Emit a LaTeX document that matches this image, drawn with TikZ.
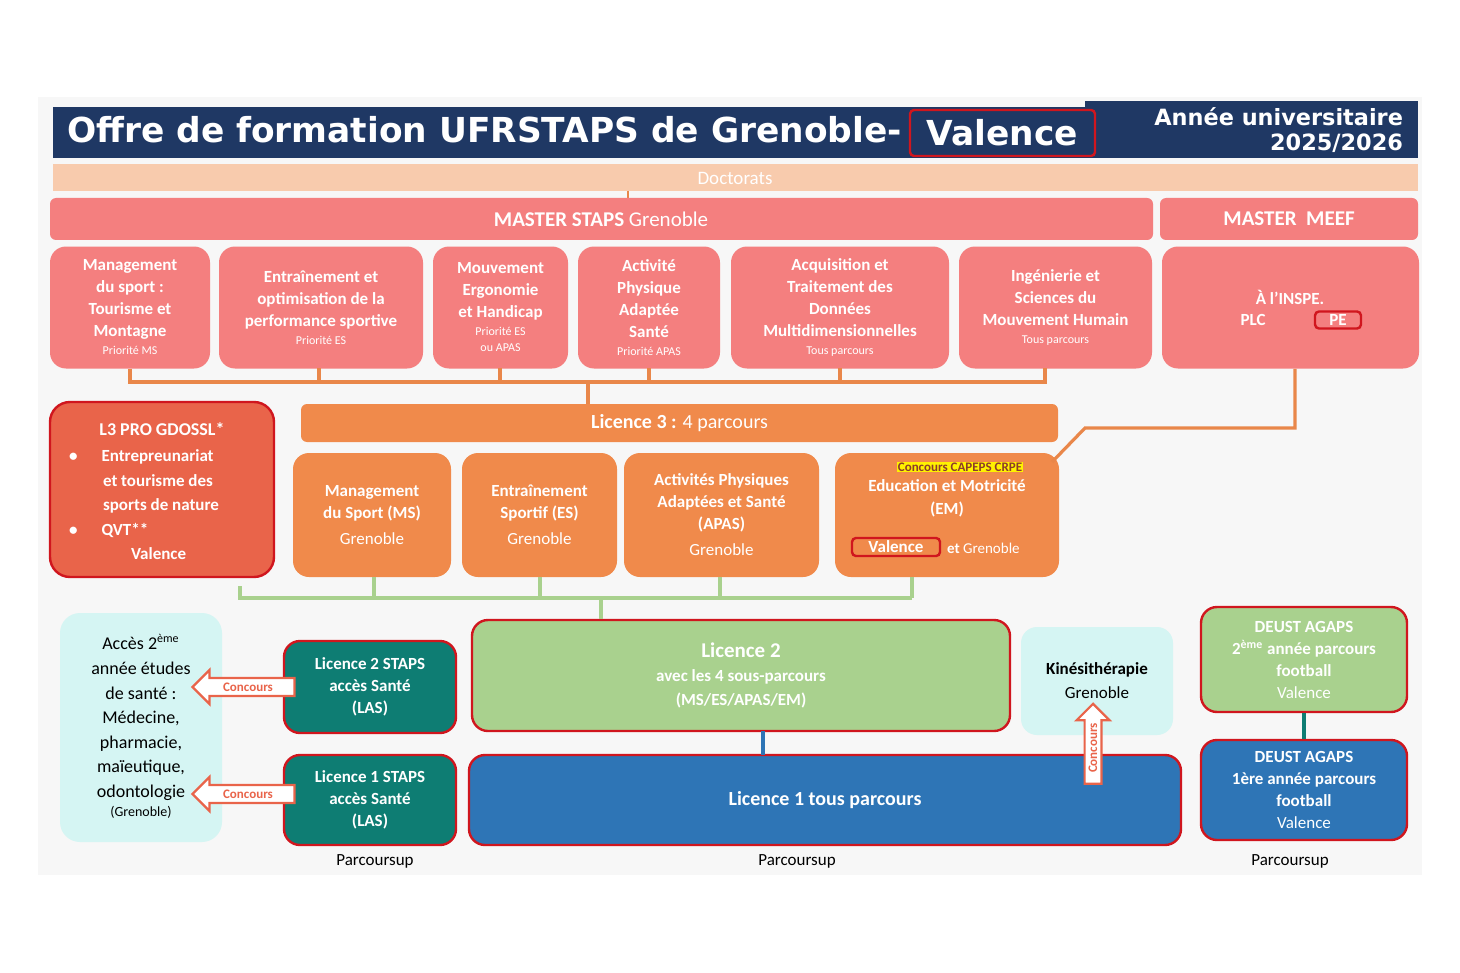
\documentclass[tikz,border=0pt]{standalone}
\usepackage{fontspec}
\setmainfont{Carlito}
\newfontfamily\titlefont{DejaVu Sans}
\usetikzlibrary{shapes.arrows}
\newcommand\subf{\fontsize{6}{7}\selectfont}
\definecolor{navy}{HTML}{1F3864}
\definecolor{salmon}{HTML}{F47F7F}
\definecolor{peach}{HTML}{F8CBAD}
\definecolor{orng}{HTML}{F08A4B}
\definecolor{redor}{HTML}{E9644A}
\definecolor{grn}{HTML}{A9D18E}
\definecolor{blu}{HTML}{2E75B6}
\definecolor{teal2}{HTML}{0E7D73}
\definecolor{cyanl}{HTML}{D5F5F3}
\definecolor{redb}{HTML}{D0161E}
\definecolor{lineor}{HTML}{E9874A}
\definecolor{linegr}{HTML}{A9D18E}
\begin{document}
\begin{tikzpicture}[x=0.5pt,y=-0.5pt,
  box/.style={rounded corners=8pt,text=white,font=\bfseries\fontsize{8.5}{11}\selectfont,align=center},
  orline/.style={draw=lineor,line width=1.6pt},
  grline/.style={draw=linegr,line width=1.6pt},
  concarrow/.style={single arrow,draw=redor,fill=white,line width=1.1pt,text=redor,font=\bfseries\fontsize{6.5}{7}\selectfont,inner sep=1.8pt,single arrow head extend=4pt,minimum height=51pt}]
\useasboundingbox (0,0) rectangle (1460,973);
\fill[white] (0,0) rectangle (1460,973);
\fill[gray!6] (38,97) rectangle (1422,875);
% title
\fill[navy] (53,107) rectangle (1085,158);
\fill[navy] (1085,101) rectangle (1418,158);
\node[anchor=west,text=white,font=\titlefont\bfseries\fontsize{17.2}{20}\selectfont] (title) at (60,130) {Offre de formation UFRSTAPS de Grenoble-};
\node[text=white,font=\titlefont\bfseries\fontsize{17.2}{20}\selectfont,draw=redb,line width=1.2pt,rounded corners=2pt,minimum width=92.5pt,minimum height=23pt] (valt) at (1002.5,133) {Valence};
\node[anchor=east,text=white,align=right,font=\titlefont\bfseries\fontsize{11.2}{12.5}\selectfont] (annee) at (1410,130) {Année universitaire\\2025/2026};
% doctorats
\fill[peach] (53,164) rectangle (1418,191);
\node[text=white,font=\fontsize{9.5}{11}\selectfont] (doc) at (735,178) {Doctorats};
\draw[lineor,line width=1pt] (628,191) -- (628,198);
% masters
\fill[salmon,rounded corners=3pt] (50,198) rectangle (1153,240);
\node[text=white,font=\fontsize{10.5}{12}\selectfont] (ms) at (601,219) {\textbf{MASTER STAPS} Grenoble};
\fill[salmon,rounded corners=3pt] (1160,198) rectangle (1418,240);
\node[text=white,font=\bfseries\fontsize{10.5}{12}\selectfont] (meef) at (1289,219) {MASTER\ \ MEEF};
% master boxes
\node[box,fill=salmon,minimum width=80pt,minimum height=61pt] (m1) at (130,307.5) {Management\\du sport :\\Tourisme et\\Montagne\\[-2pt]{\subf\mdseries Priorité MS}};
\node[box,fill=salmon,minimum width=102pt,minimum height=61pt] (m2) at (321,307.5) {Entraînement et\\optimisation de la\\performance sportive\\[-2pt]{\subf\mdseries Priorité ES}};
\node[box,fill=salmon,minimum width=67.5pt,minimum height=61pt] (m3) at (500.5,307.5) {Mouvement\\Ergonomie\\et Handicap\\[-2pt]{\subf\mdseries Priorité ES}\\[-3pt]{\subf\mdseries ou APAS}};
\node[box,fill=salmon,minimum width=71pt,minimum height=61pt] (m4) at (649,307.5) {Activité\\Physique\\Adaptée\\Santé\\[-2pt]{\subf\mdseries Priorité APAS}};
\node[box,fill=salmon,minimum width=109pt,minimum height=61pt] (m5) at (840,307.5) {Acquisition et\\Traitement des\\Données\\Multidimensionnelles\\[-2pt]{\subf\mdseries Tous parcours}};
\node[box,fill=salmon,minimum width=96.5pt,minimum height=61pt] (m6) at (1055.5,307.5) {Ingénierie et\\Sciences du\\Mouvement Humain\\[-2pt]{\subf\mdseries Tous parcours}};
\node[box,fill=salmon,minimum width=128.5pt,minimum height=61pt] (m7) at (1290.5,307.5) {};
\node[text=white,font=\bfseries\fontsize{8.5}{11}\selectfont] (inspe) at (1290,297) {À l’INSPE.};
\node[text=white,font=\bfseries\fontsize{8.5}{11}\selectfont] (plc) at (1253,320) {PLC};
\node[text=white,font=\bfseries\fontsize{8.5}{11}\selectfont,draw=redb,line width=1.2pt,rounded corners=2pt,minimum width=23pt,inner sep=1.5pt] (pe) at (1338,320) {PE};
% L3 bar
\node[fill=orng,rounded corners=3pt,minimum width=378.5pt,minimum height=19pt,text=white,font=\fontsize{10}{12}\selectfont] (l3) at (679.5,423) {\textbf{Licence 3 :} 4 parcours};
\draw[orline] (m1.south) -- (130,382) -- (1045,382) -- (1045,368);
\foreach \x in {319,500,649,840}{\draw[orline] (\x,368) -- (\x,382);}
\draw[orline] (588,382) -- (l3.north -| 588,0);
% L3 PRO
\node[rounded corners=10pt,fill=redor,draw=redb,line width=1.2pt,minimum width=112pt,minimum height=87.5pt] (pro) at (162,489.5) {};
\node[text=white,font=\bfseries\fontsize{9}{11}\selectfont] (protitle) at (162,429) {L3 PRO GDOSSL*};
\node[text=white,anchor=north west,align=left,font=\bfseries\fontsize{8.5}{12.2}\selectfont] (prolist) at (62,443) {•\hspace{12pt}Entrepreunariat\\\hspace{17pt}et tourisme des\\\hspace{17pt}sports de nature\\•\hspace{12pt}QVT**\\\hspace{31pt}Valence};
% L3 parcours boxes
\node[box,fill=orng,minimum width=79pt,minimum height=62pt] (ms1) at (372,515) {Management\\du Sport (MS)\\[2pt]{\mdseries Grenoble}};
\node[box,fill=orng,minimum width=77.5pt,minimum height=62pt] (es1) at (539.5,515) {Entraînement\\Sportif (ES)\\[2pt]{\mdseries Grenoble}};
\node[box,fill=orng,minimum width=97.5pt,minimum height=62pt] (ap1) at (721.5,515) {Activités Physiques\\Adaptées et Santé\\(APAS)\\[2pt]{\mdseries Grenoble}};
\node[box,fill=orng,minimum width=112pt,minimum height=62pt] (em1) at (947,515) {};
\node[fill=yellow,text=redor!60!black,font=\bfseries\fontsize{6.5}{7}\selectfont,inner sep=0.5pt] (capeps) at (960,467) {Concours CAPEPS CRPE};
\node[text=white,align=center,font=\bfseries\fontsize{8.5}{11.5}\selectfont] (emt) at (947,498) {Education et Motricité\\(EM)};
\node[text=white,font=\bfseries\fontsize{8.5}{10}\selectfont,draw=redb,line width=1.2pt,rounded corners=2pt,inner sep=1.5pt,minimum width=44pt] (val) at (896,547) {Valence};
\node[text=white,anchor=west,font=\fontsize{7.5}{9}\selectfont] (etg) at (940,548) {\textbf{et} Grenoble};
% INSPE connector
\draw[orline] (m7.south -| 1295,0) -- (1295,428) -- (1085,428) -- (1052,462);
% green connectors
\draw[grline] (240,586) -- (240,598) -- (912,598);
\foreach \x in {374,540,720,912}{\draw[grline] (\x,577) -- (\x,598);}
% licence 2
\node[box,fill=grn,draw=redb,line width=1.2pt,minimum width=269pt,minimum height=55.5pt,font=\fontsize{8.5}{12}\selectfont] (l2) at (741,675.5) {{\bfseries\fontsize{10.5}{12}\selectfont Licence 2}\\\textbf{avec les 4 sous-parcours}\\\textbf{(MS/ES/APAS/EM)}};
\draw[grline] (601,598) -- (l2.north -| 601,0);
% licence 1
\node[box,fill=blu,draw=redb,line width=1.2pt,minimum width=356pt,minimum height=45pt,font=\bfseries\fontsize{10}{12}\selectfont] (l1) at (825,800) {Licence 1 tous parcours};
\draw[blu,line width=1.6pt] (763,731) -- (763,755);
% kine
\node[rounded corners=8pt,fill=cyanl,minimum width=76pt,minimum height=54pt,align=center,font=\fontsize{8.5}{12}\selectfont] (kine) at (1097,681) {\textbf{Kinésithérapie}\\Grenoble};
\node[concarrow,rotate=90,minimum height=40pt,inner sep=1.5pt] (ck) at (1093,748) {Concours};
% DEUST
\node[box,fill=grn,draw=redb,line width=1.2pt,minimum width=103pt,minimum height=52.5pt] (d2) at (1304,659.5) {DEUST AGAPS\\2\textsuperscript{ème} année parcours\\football\\{\mdseries Valence}};
\node[box,fill=blu,draw=redb,line width=1.2pt,minimum width=103pt,minimum height=50pt] (d1) at (1304,790) {DEUST AGAPS\\1ère année parcours\\football\\{\mdseries Valence}};
\draw[teal2,line width=1.6pt] (d2.south) -- (d1.north);
% left sante
\node[rounded corners=10pt,fill=cyanl,minimum width=81pt,minimum height=114.5pt] (sante) at (141,727.5) {};
\node[align=center,font=\fontsize{9}{12.3}\selectfont] (santet) at (141,726) {Accès 2\textsuperscript{ème}\\année études\\de santé :\\Médecine,\\pharmacie,\\maïeutique,\\odontologie\\[-3pt]{\fontsize{7}{8}\selectfont (Grenoble)}};
% LAS
\node[box,fill=teal2,draw=redb,line width=1.2pt,minimum width=86pt,minimum height=46pt] (las2) at (370,687) {Licence 2 STAPS\\accès Santé\\(LAS)};
\node[box,fill=teal2,draw=redb,line width=1.2pt,minimum width=86pt,minimum height=45pt] (las1) at (370,800) {Licence 1 STAPS\\accès Santé\\(LAS)};
\node[concarrow,shape border rotate=180] (c2) at (248,687) {Concours};
\node[concarrow,shape border rotate=180] (c1) at (248,794) {Concours};
% parcoursup
\node[font=\fontsize{8.5}{10}\selectfont] (p1) at (375,861) {Parcoursup};
\node[font=\fontsize{8.5}{10}\selectfont] (p2) at (797,861) {Parcoursup};
\node[font=\fontsize{8.5}{10}\selectfont] (p3) at (1290,861) {Parcoursup};
\end{tikzpicture}
\end{document}
